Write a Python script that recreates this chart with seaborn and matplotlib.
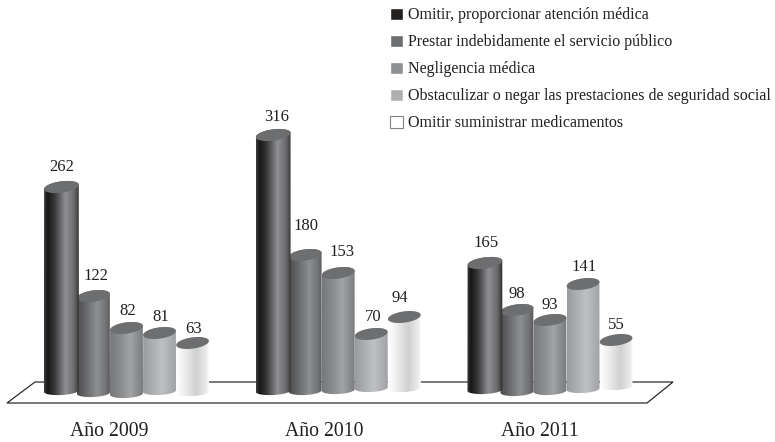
import numpy as np
import pandas as pd
import matplotlib
matplotlib.use('Agg')
import matplotlib.pyplot as plt
from matplotlib.colors import LinearSegmentedColormap
from matplotlib.patches import Polygon
from matplotlib.transforms import Affine2D
import seaborn as sns

# data
years = ['Año 2009', 'Año 2010', 'Año 2011']
causes = ['Omitir, proporcionar atención médica',
          'Prestar indebidamente el servicio público',
          'Negligencia médica',
          'Obstaculizar o negar las prestaciones de seguridad social',
          'Omitir suministrar medicamentos']
values_2009 = [262, 122, 82, 81, 63]
values_2010 = [316, 180, 153, 70, 94]
values_2011 = [165, 98, 93, 141, 55]

# look of the fake 3d cylinders (pixels), the drawing is not quite to scale
lift = [[-1.6, 1.4, 1.4, -2.8, 1.6],
        [7.2, -4, -0.4, 5, 2.8],
        [0, 6.6, 0.6, -1.8, 11]]
bottoms = [[395, 397, 398, 395, 396],
           [395, 395, 394, 392, 392],
           [394, 396, 395, 393, 390]]
label_gap = [[20, 20, 17, 16, 14],
             [18, 29, 21, 17, 19],
             [20, 16, 15, 17, 15]]
label_dx = [[0, 2, 1, 1, 1],
            [4, 1, 4, 2, -5],
            [1, 0, 0, 1, 0]]
swatches = ['#231f20', '#6d6e70', '#8f9092', '#adafb2', '#ffffff']
shades = [
    [(0, '#3a3a3a'), (.1, '#161616'), (.3, '#3a3a3b'), (.6, '#8f9092'), (.85, '#6a6a6c'), (1, '#2c2c2c')],
    [(0, '#4c4c4e'), (.25, '#666769'), (.6, '#8e8f91'), (.85, '#737476'), (1, '#58585a')],
    [(0, '#77787a'), (.3, '#8a8b8d'), (.6, '#a2a3a5'), (1, '#797a7c')],
    [(0, '#9a9b9e'), (.55, '#bfc0c3'), (1, '#a0a1a4')],
    [(0, '#ffffff'), (.2, '#f2f2f2'), (.6, '#cfd0d1'), (.9, '#ececec'), (1, '#ffffff')],
]
top_color = '#6d6e70'
ink = '#231f20'

W, H = 775, 442
K = 0.8  # pixels per unit
BASE = 395
AX_BOTTOM = 410

df = pd.DataFrame({
    'year': np.repeat(years, len(causes)),
    'cause': causes * len(years),
    'value': values_2009 + values_2010 + values_2011,
})

sns.set_theme(style='white')
plt.rcParams['font.family'] = ['Liberation Serif', 'DejaVu Serif']

fig = plt.figure(figsize=(W / 100, H / 100), dpi=100)
ax = fig.add_axes([0, 1 - AX_BOTTOM / H, 1, AX_BOTTOM / H])
sns.barplot(data=df, x='year', y='value', hue='cause', hue_order=causes, order=years,
            palette=swatches, width=0.78, gap=0, errorbar=None, ax=ax)

c0, step = 126.5, 211.75
xlim = (-c0 / step, (W - c0) / step)
ylim = ((BASE - AX_BOTTOM) / K, BASE / K)
ax.set_xlim(xlim)
ax.set_ylim(ylim)
sns.despine(ax=ax, left=True, bottom=True)
ax.set_xlabel('')
ax.set_ylabel('')
ax.set_yticks([])
ax.set_xticks([-0.083, 0.934, 1.95])
ax.set_xticklabels(years, fontsize=14.2, color=ink)
ax.tick_params(axis='x', length=0, pad=8.5)

# pixel coordinates, origin top left like the picture
px = Affine2D().scale(1, -1).translate(0, H)


def arc(cx, cy, a, b, tilt, start, stop):
    th = np.linspace(start, stop, 60)
    t = np.radians(tilt)
    x = cx + a * np.cos(th) * np.cos(t) - b * np.sin(th) * np.sin(t)
    y = cy - a * np.cos(th) * np.sin(t) - b * np.sin(th) * np.cos(t)
    return np.column_stack([x, y])


# floor
floor = Polygon([(7, 403), (35, 382), (673, 382), (647, 403)], closed=True, fill=False,
                edgecolor=ink, lw=0.85, transform=px, zorder=1)
ax.add_patch(floor)

for c, container in enumerate(ax.containers):
    cmap = LinearSegmentedColormap.from_list('cyl%d' % c, shades[c])
    for g, bar in enumerate(container):
        bar.set_visible(False)
        x0 = ax.transData.transform((bar.get_x(), 0))[0]
        x1 = ax.transData.transform((bar.get_x() + bar.get_width(), 0))[0]
        if c == 0:
            x1 += 2
        top = H - ax.transData.transform((0, bar.get_height()))[1] - lift[g][c]
        bot = bottoms[g][c]
        cx, a = (x0 + x1) / 2, (x1 - x0) / 2
        z = 5 + (10 if c == 0 else c)

        # body: from the top ellipse down to the curved foot
        upper = arc(cx, top, a, 5.6, 8, 0, np.pi)
        lower = arc(cx, bot - 4, a, 4, 3, np.pi, 2 * np.pi)
        outline = Polygon(np.vstack([upper, lower]), closed=True, fill=False, lw=0,
                          transform=px, zorder=z)
        ax.add_patch(outline)
        dx0, dy0 = ax.transData.inverted().transform((x0, H - top + 8))
        dx1, dy1 = ax.transData.inverted().transform((x1, H - bot - 1))
        im = ax.imshow(np.linspace(0, 1, 64)[None, :], extent=(dx0, dx1, dy1, dy0), cmap=cmap,
                       aspect='auto', interpolation='bilinear', zorder=z)
        im.set_clip_path(outline)

        cap = Polygon(arc(cx, top, a, 5.6, 8, 0, 2 * np.pi), closed=True, facecolor=top_color,
                      edgecolor='none', transform=px, zorder=z + 0.5)
        ax.add_patch(cap)

        ax.text(cx + label_dx[g][c], top - label_gap[g][c], str(int(bar.get_height())),
                transform=px, ha='center', va='center', fontsize=12, color=ink, zorder=30)

ax.set_xlim(xlim)
ax.set_ylim(ylim)

sns.move_legend(ax, loc='upper left', bbox_to_anchor=(385 / W, 1 - 2.5 / H),
                bbox_transform=fig.transFigure, title=None, frameon=False, fontsize=11.5,
                handlelength=0.8, handleheight=0.8, handletextpad=0.32, labelspacing=0.69,
                borderpad=0.3, borderaxespad=0)
leg = ax.get_legend()
for t in leg.get_texts():
    t.set_color(ink)
leg.legend_handles[4].set_edgecolor('#808285')
leg.legend_handles[4].set_linewidth(0.8)

fig.savefig('out.png', dpi=100)
